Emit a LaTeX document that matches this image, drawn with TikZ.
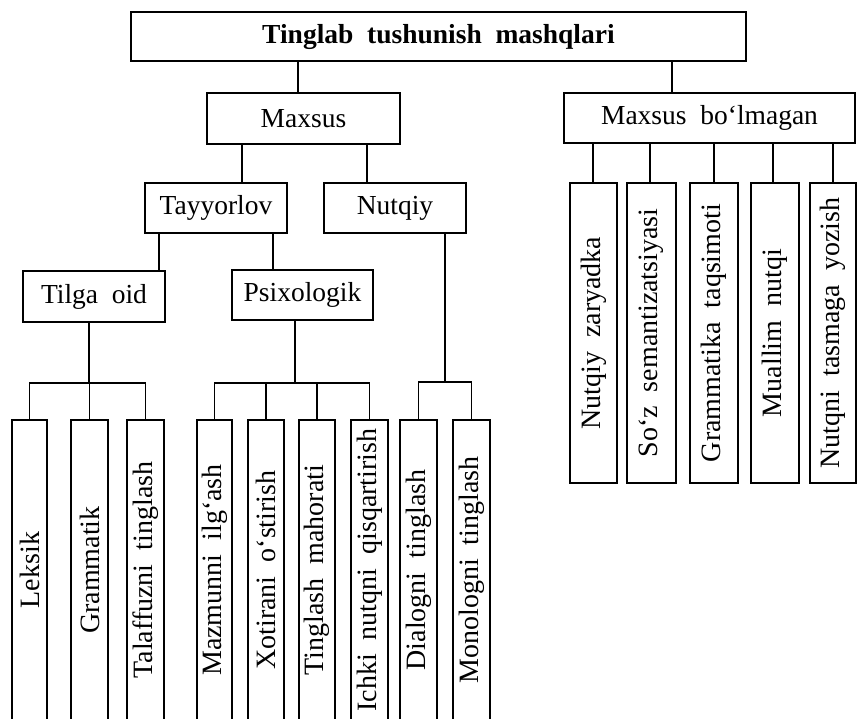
\documentclass[tikz,border=0pt]{standalone}
\usepackage{fontspec}
\setmainfont[WordSpace=2.0]{Liberation Serif}
\begin{document}
\begin{tikzpicture}[x=1pt,y=-1pt, line width=1.5pt,
  box/.style={draw, inner sep=0pt, font=\fontsize{27.5}{31}\selectfont},
  leaf/.style={draw, inner sep=0pt, rotate=90, minimum width=300pt, font=\fontsize{28}{32}\selectfont}]
\useasboundingbox (0,0) rectangle (858,718);
\clip (0,0) rectangle (858,718);

% upper boxes
\node[box, minimum width=615pt, minimum height=49pt, font=\fontsize{27.5}{31}\selectfont\bfseries] (title) at (438.5,36.5) {Tinglab tushunish mashqlari};
\node[box, minimum width=193pt, minimum height=51pt] (maxsus) at (303.5,118.5) {Maxsus};
\node[box, minimum width=291pt, minimum height=50pt] (maxbol) at (709.5,118) {Maxsus bo‘lmagan};
\node[box, minimum width=142pt, minimum height=50pt] (tayyor) at (216,208) {Tayyorlov};
\node[box, minimum width=142pt, minimum height=50pt] (nutqiy) at (395,208) {Nutqiy};
\node[box, minimum width=142pt, minimum height=51pt] (tilga) at (94,296.5) {Tilga oid};
\node[box, minimum width=141pt, minimum height=50pt] (psix) at (302.5,295) {Psixologik};

% left leaves (open at the bottom edge)
\node[leaf, minimum height=35pt] (leksik) at (29.5,570) {Leksik};
\node[leaf, minimum height=37pt] (gram) at (89.5,570) {Grammatik};
\node[leaf, minimum height=37pt] (talaf) at (145.5,570) {Talaffuzni tinglash};
\node[leaf, minimum height=35pt] (mazm) at (214.5,570) {Mazmunni ilg‘ash};
\node[leaf, minimum height=36pt] (xotir) at (266,570) {Xotirani o‘stirish};
\node[leaf, minimum height=36pt] (tmah) at (317,570) {Tinglash mahorati};
\node[leaf, minimum height=37pt] (ichki) at (369.5,570) {Ichki nutqni qisqartirish};
\node[leaf, minimum height=37pt] (dial) at (418.5,570) {Dialogni tinglash};
\node[leaf, minimum height=37pt] (monol) at (471.5,570) {Monologni tinglash};

% right leaves
\node[leaf, minimum height=47pt] (nz) at (593.5,333) {Nutqiy zaryadka};
\node[leaf, minimum height=49pt] (soz) at (651.5,333) {So‘z semantizatsiyasi};
\node[leaf, minimum height=48pt] (gt) at (714,333) {Grammatika taqsimoti};
\node[leaf, minimum height=48pt] (mn) at (775,333) {Muallim nutqi};
\node[leaf, minimum height=46pt] (nt) at (833,333) {Nutqni tasmaga yozish};

% helper coordinates for connector positions
\coordinate (xa) at (298,0);
\coordinate (xb) at (672,0);
\coordinate (xc) at (242,0);
\coordinate (xd) at (367,0);
\coordinate (xe) at (159,0);
\coordinate (xf) at (273,0);
\coordinate (xg) at (89,0);
\coordinate (xh) at (295,0);
\coordinate (xi) at (445,0);
\coordinate (busA) at (0,383);
\coordinate (busB) at (0,382);

% connectors
\draw (title.south -| xa) -- (maxsus.north -| xa);
\draw (title.south -| xb) -- (maxbol.north -| xb);
\draw (maxsus.south -| xc) -- (tayyor.north -| xc);
\draw (maxsus.south -| xd) -- (nutqiy.north -| xd);
\draw (tayyor.south -| xe) -- (tilga.north -| xe);
\draw (tayyor.south -| xf) -- (psix.north -| xf);

\draw (tilga.south -| xg) -- (xg |- busA);
\draw (leksik.east) |- (talaf.east |- busA) -- (talaf.east);
\draw (gram.east) -- (gram.east |- busA);

\draw (psix.south -| xh) -- (xh |- busA);
\draw (mazm.east) |- (ichki.east |- busA) -- (ichki.east);
\draw (xotir.east) -- (xotir.east |- busA);
\draw (tmah.east) -- (tmah.east |- busA);

\draw (nutqiy.south -| xi) -- (xi |- busB);
\draw (dial.east) |- (monol.east |- busB) -- (monol.east);

\foreach \n/\x in {nz/593, soz/650, gt/714, mn/773, nt/833}
  \draw (maxbol.south -| \x,0) -- (\n.east -| \x,0);
\end{tikzpicture}
\end{document}
